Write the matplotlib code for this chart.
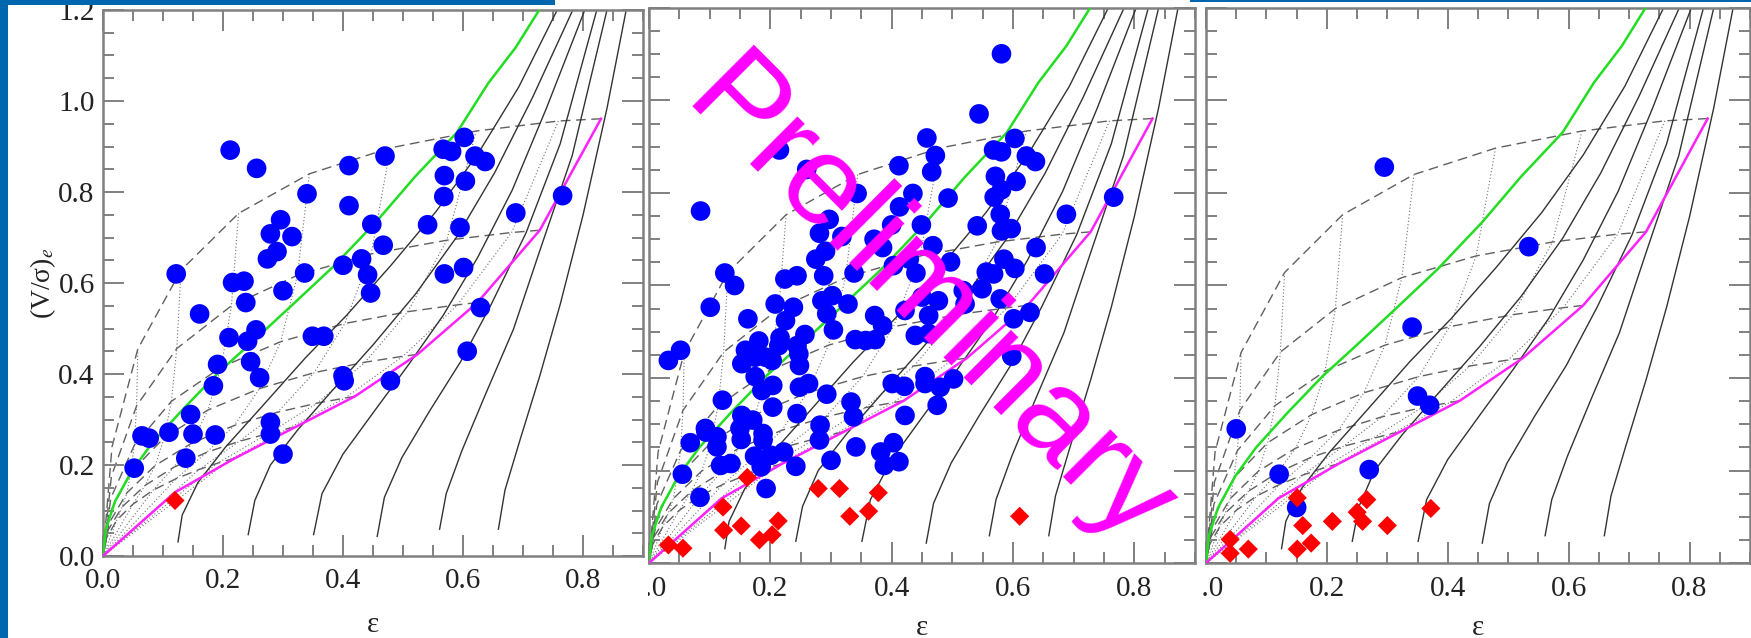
import matplotlib.pyplot as plt
from matplotlib.patches import Rectangle
from matplotlib.ticker import MultipleLocator

plt.rcParams['mathtext.fontset'] = 'stix'

# ---------------------------------------------------------------------
# data points (epsilon, (V/sigma)_e)
# ---------------------------------------------------------------------
p1_blue_eps = [0.212, 0.256, 0.340, 0.410, 0.410, 0.470, 0.296, 0.279, 0.315, 0.290,
               0.274, 0.448, 0.467, 0.431, 0.400, 0.441, 0.336, 0.122, 0.216, 0.235,
               0.300, 0.446, 0.567, 0.581, 0.602, 0.620, 0.637, 0.569, 0.604, 0.568,
               0.541, 0.595, 0.688, 0.766, 0.569, 0.601, 0.238, 0.161, 0.629, 0.210,
               0.255, 0.241, 0.349, 0.368, 0.191, 0.246, 0.261, 0.184, 0.607, 0.400,
               0.402, 0.479, 0.146, 0.065, 0.077, 0.110, 0.150, 0.187, 0.279, 0.279,
               0.300, 0.138, 0.052]
p1_blue_vs = [0.892, 0.852, 0.796, 0.858, 0.770, 0.879, 0.739, 0.708, 0.702, 0.669,
              0.653, 0.729, 0.683, 0.653, 0.639, 0.618, 0.622, 0.620, 0.601, 0.604,
              0.583, 0.578, 0.894, 0.889, 0.920, 0.879, 0.867, 0.836, 0.824, 0.790,
              0.728, 0.722, 0.754, 0.792, 0.620, 0.634, 0.557, 0.532, 0.546, 0.480,
              0.497, 0.472, 0.483, 0.483, 0.421, 0.427, 0.392, 0.374, 0.450, 0.396,
              0.385, 0.385, 0.311, 0.264, 0.259, 0.272, 0.268, 0.266, 0.294, 0.268,
              0.224, 0.215, 0.193]
p1_red_eps = [0.120]
p1_red_vs = [0.122]

p2_blue_eps = [0.581, 0.544, 0.458, 0.215, 0.472, 0.260, 0.412, 0.466, 0.568, 0.581,
               0.603, 0.622, 0.637, 0.571, 0.605, 0.581, 0.569, 0.435, 0.343, 0.493,
               0.085, 0.413, 0.579, 0.688, 0.766, 0.297, 0.400, 0.449, 0.541, 0.581,
               0.597, 0.281, 0.318, 0.371, 0.385, 0.291, 0.275, 0.468, 0.638, 0.429,
               0.497, 0.585, 0.603, 0.556, 0.568, 0.403, 0.652, 0.125, 0.338, 0.244,
               0.224, 0.288, 0.440,
               0.141, 0.101, 0.208, 0.238, 0.285, 0.302, 0.293, 0.328, 0.163, 0.225,
               0.304, 0.257, 0.216, 0.181, 0.214, 0.244, 0.340, 0.357, 0.373, 0.159,
               0.192, 0.153, 0.175, 0.203, 0.247, 0.248, 0.175, 0.204, 0.186, 0.263,
               0.248, 0.293, 0.333, 0.121, 0.204, 0.244, 0.153, 0.337, 0.282, 0.422,
               0.032, 0.052, 0.093, 0.372, 0.385, 0.401, 0.421, 0.455, 0.475, 0.477,
               0.450, 0.461, 0.461,
               0.549, 0.518, 0.521, 0.579, 0.628, 0.601, 0.422, 0.439, 0.598, 0.455,
               0.480, 0.502,
               0.171, 0.094, 0.112, 0.068, 0.150, 0.152, 0.188, 0.188, 0.281, 0.112,
               0.174, 0.201, 0.222, 0.118, 0.135, 0.185, 0.242, 0.300, 0.341, 0.382,
               0.403, 0.388, 0.412, 0.055, 0.193, 0.084]
p2_blue_vs = [1.101, 0.971, 0.919, 0.893, 0.881, 0.851, 0.859, 0.846, 0.893, 0.889,
              0.918, 0.880, 0.868, 0.836, 0.825, 0.807, 0.791, 0.799, 0.799, 0.789,
              0.761, 0.770, 0.754, 0.754, 0.791, 0.743, 0.731, 0.731, 0.729, 0.718,
              0.723, 0.713, 0.706, 0.700, 0.682, 0.674, 0.657, 0.686, 0.682, 0.657,
              0.651, 0.657, 0.637, 0.629, 0.625, 0.643, 0.625, 0.627, 0.627, 0.621,
              0.614, 0.621, 0.627,
              0.600, 0.553, 0.560, 0.553, 0.567, 0.578, 0.539, 0.560, 0.528, 0.524,
              0.504, 0.494, 0.487, 0.480, 0.470, 0.470, 0.483, 0.481, 0.483, 0.460,
              0.445, 0.431, 0.445, 0.438, 0.452, 0.427, 0.403, 0.384, 0.373, 0.388,
              0.380, 0.365, 0.348, 0.352, 0.337, 0.323, 0.319, 0.316, 0.298, 0.319,
              0.438, 0.460, 0.291, 0.535, 0.513, 0.388, 0.382, 0.403, 0.341, 0.567,
              0.575, 0.535, 0.496,
              0.593, 0.589, 0.560, 0.571, 0.542, 0.528, 0.546, 0.492, 0.447, 0.388,
              0.380, 0.398,
              0.309, 0.283, 0.273, 0.260, 0.291, 0.267, 0.280, 0.266, 0.266, 0.251,
              0.231, 0.233, 0.240, 0.211, 0.215, 0.208, 0.209, 0.222, 0.251, 0.240,
              0.260, 0.211, 0.219, 0.192, 0.161, 0.142]
p2_red_eps = [0.162, 0.279, 0.314, 0.378, 0.122, 0.331, 0.362, 0.123, 0.152, 0.213,
              0.182, 0.203, 0.032, 0.056, 0.611]
p2_red_vs = [0.185, 0.161, 0.161, 0.152, 0.121, 0.101, 0.112, 0.071, 0.080, 0.091,
             0.050, 0.061, 0.039, 0.032, 0.101]

p3_blue_eps = [0.295, 0.534, 0.341, 0.350, 0.370, 0.050, 0.121, 0.270, 0.150]
p3_blue_vs = [0.856, 0.684, 0.510, 0.361, 0.341, 0.290, 0.192, 0.202, 0.120]
p3_red_eps = [0.151, 0.266, 0.372, 0.250, 0.259, 0.209, 0.160, 0.300, 0.174, 0.151,
              0.070, 0.040, 0.040]
p3_red_vs = [0.141, 0.137, 0.118, 0.110, 0.090, 0.090, 0.081, 0.081, 0.043, 0.030,
             0.030, 0.051, 0.021]

# ---------------------------------------------------------------------
# model curves
# ---------------------------------------------------------------------
iso_eps = [0.0, 0.005, 0.020, 0.049, 0.083, 0.135, 0.193, 0.250, 0.314, 0.383,
           0.457, 0.521, 0.590, 0.642, 0.688, 0.727]
iso_vs = [0.0, 0.060, 0.120, 0.189, 0.250, 0.325, 0.404, 0.472, 0.550, 0.635,
          0.737, 0.835, 0.931, 1.039, 1.118, 1.200]

edge_eps = [0.0, 0.120, 0.220, 0.320, 0.420, 0.524, 0.624, 0.728, 0.830]
edge_vs = [0.0, 0.140, 0.215, 0.283, 0.351, 0.443, 0.557, 0.716, 0.961]

# lines of constant anisotropy (edge-on)
delta_eps = [
    [0.125, 0.132, 0.158, 0.204, 0.268, 0.337, 0.406, 0.480, 0.555, 0.624, 0.693, 0.757],
    [0.242, 0.253, 0.279, 0.325, 0.383, 0.452, 0.521, 0.590, 0.653, 0.716, 0.783],
    [0.351, 0.365, 0.400, 0.452, 0.509, 0.567, 0.624, 0.682, 0.739, 0.803],
    [0.457, 0.469, 0.498, 0.544, 0.596, 0.647, 0.705, 0.762, 0.823],
    [0.561, 0.572, 0.598, 0.638, 0.684, 0.728, 0.782, 0.840],
    [0.659, 0.670, 0.695, 0.728, 0.762, 0.800, 0.840, 0.872],
]
delta_vs = [
    [0.031, 0.090, 0.161, 0.239, 0.333, 0.435, 0.529, 0.639, 0.757, 0.882, 1.031, 1.200],
    [0.047, 0.122, 0.200, 0.278, 0.365, 0.467, 0.576, 0.702, 0.843, 1.008, 1.200],
    [0.047, 0.137, 0.224, 0.318, 0.420, 0.529, 0.655, 0.804, 0.984, 1.200],
    [0.043, 0.129, 0.216, 0.318, 0.427, 0.553, 0.710, 0.906, 1.200],
    [0.059, 0.137, 0.231, 0.357, 0.498, 0.671, 0.880, 1.200],
    [0.059, 0.145, 0.255, 0.396, 0.553, 0.749, 0.984, 1.200],
]

# grid: rows = constant intrinsic ellipticity (dashed),
#       columns = inclination 90, 80, ..., 10 deg, last node = origin
grid_eps = [
    [0.830, 0.759, 0.622, 0.479, 0.344, 0.226, 0.130, 0.058, 0.015, 0.0],
    [0.728, 0.681, 0.573, 0.447, 0.324, 0.214, 0.123, 0.056, 0.014, 0.0],
    [0.624, 0.591, 0.508, 0.403, 0.296, 0.197, 0.114, 0.052, 0.013, 0.0],
    [0.524, 0.500, 0.437, 0.352, 0.261, 0.175, 0.102, 0.046, 0.012, 0.0],
    [0.420, 0.403, 0.357, 0.291, 0.219, 0.148, 0.087, 0.040, 0.010, 0.0],
    [0.320, 0.308, 0.275, 0.227, 0.173, 0.118, 0.070, 0.032, 0.008, 0.0],
    [0.220, 0.212, 0.191, 0.160, 0.122, 0.084, 0.050, 0.023, 0.006, 0.0],
]
grid_vs = [
    [0.961, 0.956, 0.934, 0.897, 0.840, 0.753, 0.628, 0.455, 0.240, 0.0],
    [0.716, 0.711, 0.694, 0.664, 0.617, 0.550, 0.456, 0.330, 0.175, 0.0],
    [0.557, 0.552, 0.537, 0.511, 0.471, 0.415, 0.340, 0.243, 0.127, 0.0],
    [0.443, 0.439, 0.426, 0.403, 0.368, 0.321, 0.260, 0.184, 0.096, 0.0],
    [0.351, 0.347, 0.336, 0.316, 0.287, 0.248, 0.199, 0.139, 0.072, 0.0],
    [0.283, 0.280, 0.269, 0.252, 0.228, 0.195, 0.155, 0.108, 0.056, 0.0],
    [0.215, 0.212, 0.204, 0.190, 0.170, 0.145, 0.114, 0.079, 0.040, 0.0],
]
DOTTED_COLS = range(1, 8)   # inclinations 80 ... 20 deg

W, H = 1751, 638
BLUE_BG = '#0066ad'


def box(left, right, top, bottom):
    return [left / W, 1 - bottom / H, (right - left) / W, (bottom - top) / H]


def draw_models(ax):
    for k in range(len(grid_eps)):
        ax.plot(grid_eps[k], grid_vs[k], color='#606060', lw=1.0, ls=(0, (7, 4)), zorder=1)
    for j in DOTTED_COLS:
        ax.plot([r[j] for r in grid_eps] + [0.0], [r[j] for r in grid_vs] + [0.0],
                color='#707070', lw=0.8, ls=(0, (1, 2)), zorder=1)
    for e, v in zip(delta_eps, delta_vs):
        ax.plot(e, v, color='#333333', lw=1.0, zorder=2)
    ax.plot(iso_eps, iso_vs, color='#22dd22', lw=1.8, zorder=3)
    ax.plot(edge_eps, edge_vs, color='#ff22ff', lw=1.8, zorder=3)


def style_axes(ax):
    ax.set_xlim(0, 0.9)
    ax.set_ylim(0, 1.2)
    ax.xaxis.set_major_locator(MultipleLocator(0.2))
    ax.xaxis.set_minor_locator(MultipleLocator(0.05))
    ax.yaxis.set_major_locator(MultipleLocator(0.2))
    ax.yaxis.set_minor_locator(MultipleLocator(0.05))
    ax.tick_params(which='both', direction='in', top=True, right=True,
                   color='#808080', width=1.4, labelsize=21, labelcolor='#222222')
    ax.tick_params(which='major', length=15, pad=9)
    ax.tick_params(which='minor', length=8)
    ax.tick_params(axis='y', pad=6)
    for lab in ax.get_xticklabels() + ax.get_yticklabels():
        lab.set_family('Liberation Serif')
    for sp in ax.spines.values():
        sp.set_color('#808080')
        sp.set_linewidth(1.8)
    ax.set_xlabel('ε', fontsize=21, family='Liberation Serif', color='#222222')


fig = plt.figure(figsize=(W / 100, H / 100), dpi=100)

panels = [
    (box(103, 643, 10, 556), p1_blue_eps, p1_blue_vs, p1_red_eps, p1_red_vs),
    (box(649, 1195, 8, 563), p2_blue_eps, p2_blue_vs, p2_red_eps, p2_red_vs),
    (box(1206, 1750, 8, 563), p3_blue_eps, p3_blue_vs, p3_red_eps, p3_red_vs),
]

for n, (pos, be, bv, re_, rv) in enumerate(panels):
    ax = fig.add_axes(pos)
    draw_models(ax)
    ax.scatter(be, bv, s=200, color='#0000ff', edgecolors='none', zorder=5)
    ax.scatter(re_, rv, s=95, marker='D', color='#ff0000', edgecolors='none', zorder=5)
    style_axes(ax)
    if n == 0:
        ax.set_ylabel('(V/σ)$_e$', fontsize=20, family='Liberation Serif', color='#222222')
        ax.yaxis.set_label_coords(-0.083, 0.5)
        ax.xaxis.set_label_coords(0.5, -0.103)
    else:
        ax.tick_params(labelleft=False)
        ax.xaxis.set_label_coords(0.5, -0.094)

# the panels were cut from a larger image: hide the left parts of "0.0"
fig.add_artist(Rectangle((600 / W, 1 - 605 / H), 48 / W, 40 / H, transform=fig.transFigure,
                         facecolor='white', edgecolor='none', zorder=10))
fig.add_artist(Rectangle((1170 / W, 1 - 605 / H), 33 / W, 40 / H, transform=fig.transFigure,
                         facecolor='white', edgecolor='none', zorder=10))

# slide background pieces
fig.add_artist(Rectangle((0, 0), 8 / W, 1, transform=fig.transFigure,
                         facecolor=BLUE_BG, edgecolor='none', zorder=11))
fig.add_artist(Rectangle((0, 1 - 5 / H), 555 / W, 5 / H, transform=fig.transFigure,
                         facecolor=BLUE_BG, edgecolor='none', zorder=11))
fig.add_artist(Rectangle((1190 / W, 1 - 2 / H), 561 / W, 2 / H, transform=fig.transFigure,
                         facecolor=BLUE_BG, edgecolor='none', zorder=11))

fig.text(928 / W, 1 - 306 / H, 'Preliminary', rotation=-45, rotation_mode='anchor',
         ha='center', va='center', fontsize=91, family='Liberation Sans',
         color='#ff00ff', zorder=12)

fig.savefig('out.png', dpi=100)
